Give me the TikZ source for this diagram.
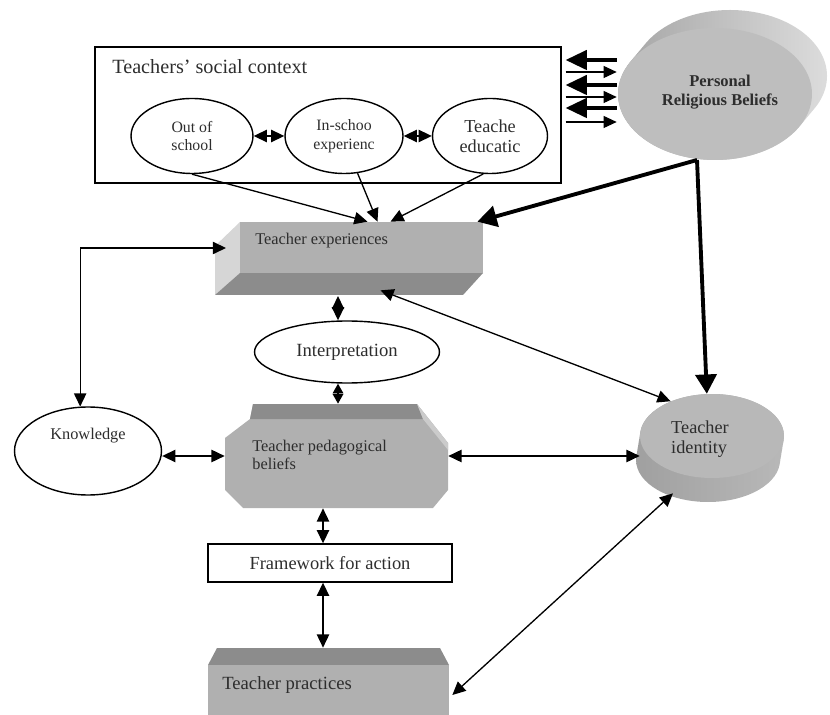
\documentclass[tikz,border=0pt]{standalone}
\usepackage{fontspec}
\setmainfont{Liberation Serif}
\usetikzlibrary{arrows.meta,shapes,calc}
\definecolor{textgrau}{RGB}{45,45,45}
\definecolor{frontgrau}{RGB}{176,176,176}
\definecolor{deckgrau}{RGB}{140,140,140}
\definecolor{seitegrau}{RGB}{214,214,214}
\definecolor{beliefgrau}{RGB}{190,190,190}
\definecolor{randdunkel}{RGB}{165,165,165}
\definecolor{randhell}{RGB}{220,220,220}
\definecolor{identgrau}{RGB}{184,184,184}
\definecolor{identrand}{RGB}{160,160,160}
\tikzstyle{lbl} = [inner sep=0pt,text=textgrau,align=left,font=\fontsize{9.3}{10.4}\selectfont]
\tikzstyle{oval} = [ellipse,draw=black,line width=0.8pt,fill=white,inner sep=0pt,text=textgrau,align=center]
\tikzstyle{twoway} = [line width=0.75pt,{Triangle[length=7.5pt,width=7pt]}-{Triangle[length=7.5pt,width=7pt]}]
\tikzstyle{stubby} = [line width=0.75pt,{Triangle[length=5.5pt,width=6pt]}-{Triangle[length=5.5pt,width=6pt]}]
\tikzstyle{oneway} = [line width=0.75pt,-{Triangle[length=7.5pt,width=7pt]}]
\tikzstyle{heavy} = [line width=2.2pt,-{Triangle[length=11pt,width=12pt]}]
\tikzstyle{rbthick} = [line width=1.8pt,-{Triangle[length=12pt,width=11pt]}]
\tikzstyle{rbthin} = [line width=0.6pt,-{Triangle[length=7.4pt,width=6.8pt]}]

\begin{document}
\begin{tikzpicture}[x=0.02cm,y=-0.02cm]
\useasboundingbox (0,0) rectangle (830,715);

% social context box with its three ellipses
\node[draw=black,line width=0.8pt,minimum width=9.32cm,minimum height=2.72cm,inner sep=0pt] (social) at (328,115) {};
\node[lbl,anchor=west,font=\fontsize{11.5}{13}\selectfont] (social-title) at (112,66.5) {Teachers’ social context};
\node[oval,minimum width=2.44cm,minimum height=1.5cm,font=\fontsize{9}{10.6}\selectfont] (outside) at (192,136) {Out of\\school};
\node[oval,minimum width=2.36cm,minimum height=1.5cm,font=\fontsize{9}{10.6}\selectfont] (inschool) at (344,136) {In-schoo\\experienc};
\node[oval,minimum width=2.3cm,minimum height=1.5cm,font=\fontsize{10.4}{11.6}\selectfont] (teached) at (490,136) {Teache\\educatic};
\draw[twoway] (outside.east) -- (inschool.west);
\draw[twoway] (inschool.east) -- (teached.west);

% personal beliefs, a flat disc seen from the front
\shade[left color=randdunkel,right color=randhell] \foreach \k in {0,...,12} {(715+1.25*\k,94-1.5*\k) ellipse [x radius=97,y radius=66]};
\node[ellipse,fill=beliefgrau,minimum width=3.88cm,minimum height=2.64cm,inner sep=0pt] (belief) at (715,94) {};
\node[lbl,align=center,font=\bfseries\fontsize{9.4}{10.8}\selectfont] (belief-label) at (720,92) {Personal\\Religious Beliefs};
\coordinate (belief-foot) at (697,160);

\draw[rbthick] ($(belief.west)+(-1,-34)$) -- ($(social.east)+(4,-55)$);
\draw[rbthin] ($(social.east)+(4,-43)$) -- ($(belief.west)+(-1,-22)$);
\draw[rbthick] ($(belief.west)+(-1,-9)$) -- ($(social.east)+(4,-30)$);
\draw[rbthin] ($(social.east)+(4,-18)$) -- ($(belief.west)+(-1,3)$);
\draw[rbthick] ($(belief.west)+(-1,14)$) -- ($(social.east)+(4,-7)$);
\draw[rbthin] ($(social.east)+(4,7)$) -- ($(belief.west)+(-1,28)$);

% teacher experiences block
\fill[seitegrau] (240,222) -- (240,273) -- (215,295) -- (215,246) -- cycle;
\fill[deckgrau] (240,273) -- (483,273) -- (463,295) -- (215,295) -- cycle;
\node[fill=frontgrau,minimum width=4.86cm,minimum height=1.02cm,inner sep=0pt] (texp) at (361.5,247.5) {};
\node[lbl,anchor=west] (texp-label) at (255,241) {Teacher experiences};
\coordinate (texp-side) at (226,248);
\coordinate (texp-base) at (338,296);

% interpretation and knowledge
\node[oval,minimum width=3.7cm,minimum height=1.24cm,font=\fontsize{10.6}{12}\selectfont] (interp) at (347,352) {Interpretation};
\node[oval,minimum width=2.94cm,minimum height=1.76cm] (know) at (88,451) {};
\node[lbl] (know-label) at (88,436) {Knowledge};

% pedagogical beliefs, chamfered block
\fill[frontgrau] (253,404) -- (417,404) -- (448,443) -- (448,490) -- (433,508) -- (243,508) -- (225,490) -- (225,438) -- (250,419) -- cycle;
\fill[deckgrau] (253,404) -- (417,404) -- (423,419) -- (250,419) -- cycle;
\fill[seitegrau!70!frontgrau] (417,404) -- (448,443) -- (448,450) -- (423,419) -- cycle;
\node[minimum width=4.46cm,minimum height=2.08cm,inner sep=0pt] (peda) at (336.5,456) {};
\node[lbl,anchor=west] (peda-label) at (252,455) {Teacher pedagogical\\beliefs};

% teacher identity disc
\shade[left color=identrand,right color=identgrau] \foreach \k in {0,...,12} {(712-0.33*\k,436+2*\k) ellipse [x radius=72,y radius=42]};
\node[ellipse,fill=identgrau,minimum width=2.88cm,minimum height=1.68cm,inner sep=0pt] (ident) at (712,436) {};
\node[lbl,font=\fontsize{10.4}{11.4}\selectfont] (ident-label) at (700,439) {Teacher\\identity};

% framework and practices
\node[draw=black,line width=0.8pt,minimum width=4.88cm,minimum height=0.76cm,inner sep=0pt,text=textgrau,font=\fontsize{10.5}{12}\selectfont] (frame) at (330,563) {Framework for action};
\fill[deckgrau] (217,648) -- (440,648) -- (449,665) -- (208,665) -- cycle;
\node[fill=frontgrau,minimum width=4.82cm,minimum height=1.2cm,inner sep=0pt] (tprac) at (328.5,695) {};
\node[lbl,anchor=west,font=\fontsize{10.6}{12}\selectfont] (tprac-label) at (222,685) {Teacher practices};

% connectors
\draw[oneway] (outside.south) -- ($(texp.north)+(6,0)$);
\draw[oneway] (inschool.290) -- ($(texp.north)+(16,0)$);
\draw[oneway] (teached.260) -- ($(texp.north)+(29,0)$);
\draw[heavy] (belief-foot) -- ($(texp.north east)+(-6,0)$);
\draw[heavy] (belief-foot) -- (ident.97);
\draw[twoway] (know.100) |- (texp-side);
\draw[twoway] (texp-base) -- (texp-base |- interp.north);
\draw[stubby] (interp.south -| texp-base) -- (peda.north -| texp-base);
\draw[twoway] (know.east |- peda.east) -- (peda.west);
\draw[twoway] (peda.east) -- (peda.east -| ident.west);
\draw[twoway] ($(texp.south)+(19,17)$) -- (ident.140);
\draw[twoway] ($(peda.south)+(-13.5,0)$) -- ($(frame.north)+(-7,0)$);
\draw[twoway] ($(frame.south)+(-7,0)$) -- ($(tprac.north)+(-5.5,-17)$);
\draw[twoway] ($(tprac.east)+(3,0)$) -- ($(ident.south)+(-39,15)$);

\end{tikzpicture}
\end{document}
